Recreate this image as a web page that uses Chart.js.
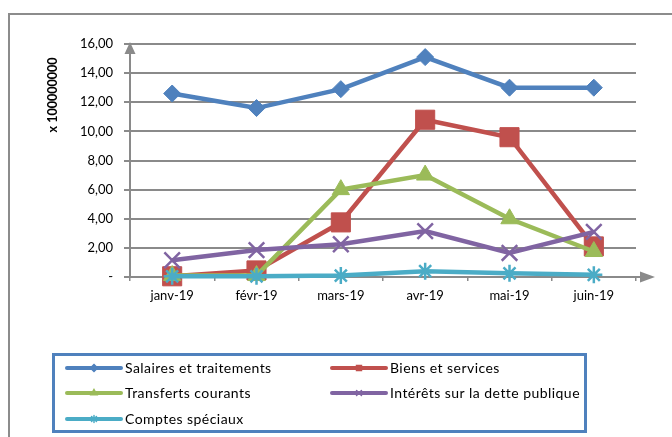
<!DOCTYPE html>
<html>
<head>
<meta charset="utf-8">
<script src="https://cdn.jsdelivr.net/npm/chart.js@4/dist/chart.umd.min.js"></script>
<style>
  html, body { margin: 0; padding: 0; background: #fff; }
  #wrap { width: 672px; height: 437px; }
</style>
</head>
<body>
<div id="wrap"><canvas id="c" width="672" height="437"></canvas></div>
<script>
// données (x 100000000)
const months     = ['janv-19', 'févr-19', 'mars-19', 'avr-19', 'mai-19', 'juin-19'];
const salaires   = [12.6, 11.6, 12.9, 15.1, 13.0, 13.0];
const biens      = [0.05, 0.45, 3.75, 10.8, 9.6, 2.1];
const transferts = [0.1, 0.1, 6.0, 7.0, 4.0, 1.75];
const interets   = [1.15, 1.85, 2.25, 3.15, 1.65, 3.1];
const comptes    = [0.05, 0.05, 0.1, 0.4, 0.25, 0.15];
const yTicks     = [0, 2, 4, 6, 8, 10, 12, 14, 16];
const axisTitle  = 'x 100000000';

const FONT = 'Lato, "Noto Sans", sans-serif';
const GREY = '#8a8a8a';

// order : la dernière série est dessinée au-dessus (comme Excel)
function serie(label, data, color, style, radius, pbw, order){
  return {
    label, data, order,
    borderColor: color, backgroundColor: color,
    borderWidth: 4.5,
    pointStyle: style, pointRadius: radius, pointHoverRadius: radius,
    pointBorderWidth: pbw, pointBorderColor: color, pointBackgroundColor: color,
    tension: 0, clip: false
  };
}

/* ---------- cadre, flèches, titre d'axe, légende ---------- */
const decor = {
  id: 'decor',
  beforeDraw(chart){
    const ctx = chart.ctx;
    ctx.save();
    ctx.strokeStyle = '#8c8c8c';
    ctx.lineWidth = 2;
    ctx.strokeRect(9, 14, 720, 500);
    ctx.restore();
  },
  afterDraw(chart){
    const ctx = chart.ctx;
    const a = chart.chartArea;
    ctx.save();
    // flèche axe Y
    ctx.fillStyle = GREY;
    ctx.beginPath();
    ctx.moveTo(a.left, a.top - 2);
    ctx.lineTo(a.left - 5.5, a.top + 10);
    ctx.lineTo(a.left + 5.5, a.top + 10);
    ctx.closePath();
    ctx.fill();
    // flèche axe X
    ctx.strokeStyle = GREY;
    ctx.lineWidth = 2;
    ctx.beginPath();
    ctx.moveTo(a.right, a.bottom);
    ctx.lineTo(a.right + 6, a.bottom);
    ctx.stroke();
    ctx.beginPath();
    ctx.moveTo(a.right + 19, a.bottom);
    ctx.lineTo(a.right + 4, a.bottom - 5.5);
    ctx.lineTo(a.right + 4, a.bottom + 5.5);
    ctx.closePath();
    ctx.fill();

    // titre d'axe
    ctx.translate(53, 95);
    ctx.rotate(-Math.PI / 2);
    ctx.fillStyle = '#000';
    ctx.font = 'bold 12.5px ' + FONT;
    ctx.textAlign = 'center';
    ctx.textBaseline = 'middle';
    ctx.fillText(axisTitle, 0, 0);
    ctx.restore();

    // légende
    ctx.save();
    ctx.strokeStyle = '#4F81BD';
    ctx.lineWidth = 3;
    ctx.strokeRect(53.5, 354.5, 532, 77);
    const cols = [67, 332], rows = [368, 393, 419];
    chart.data.datasets.forEach((ds, i) => {
      const x = cols[i % 2], y = rows[Math.floor(i / 2)];
      ctx.strokeStyle = ds.borderColor;
      ctx.lineWidth = 4;
      ctx.lineCap = 'round';
      ctx.beginPath();
      ctx.moveTo(x, y);
      ctx.lineTo(x + 54, y);
      ctx.stroke();
      ctx.fillStyle = ds.borderColor;
      ctx.lineWidth = 1.5;
      Chart.helpers.drawPoint(ctx, {pointStyle: ds.pointStyle, radius: 3.5, borderWidth: 1.5}, x + 27, y);
      ctx.fillStyle = '#000';
      ctx.font = '14px ' + FONT;
      ctx.letterSpacing = '0.45px';
      ctx.textAlign = 'left';
      ctx.textBaseline = 'middle';
      ctx.fillText(ds.label, x + 58, y);
    });
    ctx.restore();
  }
};

new Chart(document.getElementById('c'), {
  type: 'line',
  data: {
    labels: months,
    datasets: [
      serie('Salaires et traitements', salaires, '#4F81BD', 'rectRot', 8.5, 1, 4),
      serie('Biens et services', biens, '#C0504D', 'rect', 13.5, 1, 3),
      serie('Transferts courants', transferts, '#9BBB59', 'triangle', 10, 1, 2),
      serie('Intérêts sur la dette publique', interets, '#8064A2', 'crossRot', 11, 2.5, 1),
      serie('Comptes spéciaux', comptes, '#4BACC6', 'star', 8.5, 2.5, 0)
    ]
  },
  options: {
    responsive: false,
    animation: false,
    events: [],
    layout: { padding: { left: 0, right: 36, top: 44, bottom: 0 } },
    plugins: { legend: { display: false }, tooltip: { enabled: false } },
    scales: {
      x: {
        offset: true,
        afterFit: s => { s.height = 160; },
        grid: { display: true, drawOnChartArea: false, drawTicks: true, tickLength: 4, offset: true, color: GREY, lineWidth: 1.5 },
        border: { display: true, color: GREY, width: 2 },
        ticks: { color: '#000', padding: 7, maxRotation: 0, font: { family: FONT, size: 13 } }
      },
      y: {
        min: 0, max: 16,
        afterFit: s => { s.width = 130; },
        afterBuildTicks: s => { s.ticks = yTicks.map(v => ({ value: v })); },
        grid: { color: GREY, lineWidth: 2, tickLength: 6 },
        border: { display: true, color: GREY, width: 2 },
        ticks: {
          color: '#000', padding: 11,
          font: { family: FONT, size: 13 },
          callback: v => v === 0 ? '-' : v.toFixed(2).replace('.', ',')
        }
      }
    }
  },
  plugins: [decor]
});
</script>
</body>
</html>
